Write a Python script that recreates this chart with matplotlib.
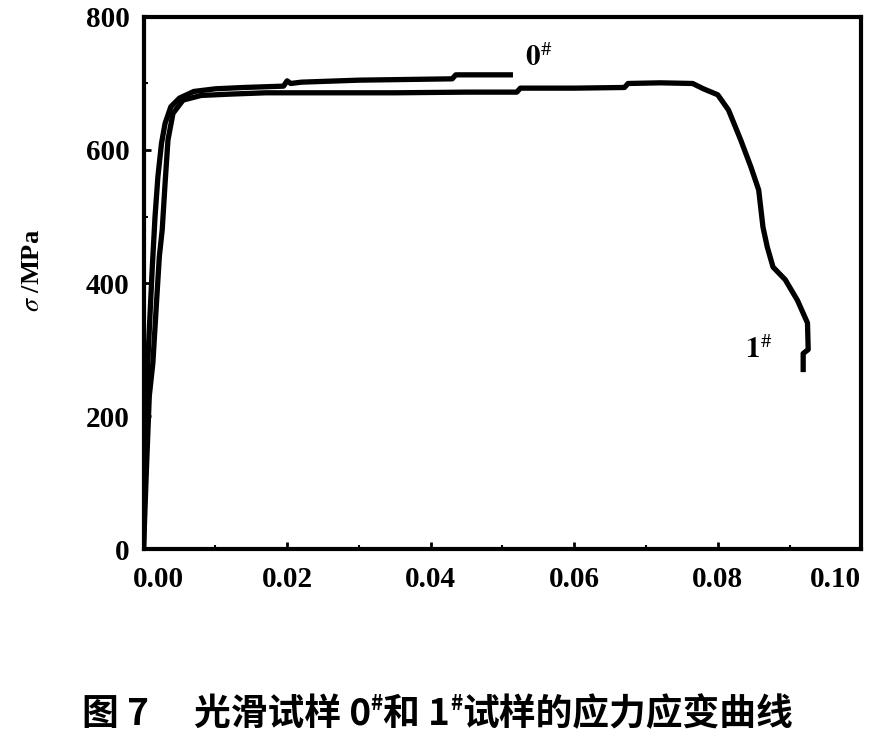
import matplotlib
matplotlib.use('Agg')
import matplotlib.pyplot as plt
import matplotlib.transforms as mtransforms
from matplotlib.ticker import MultipleLocator, FormatStrFormatter

# strain / stress
strain_1 = [0, 0.0004, 0.0008, 0.0013, 0.0018, 0.0022, 0.0026, 0.0030, 0.0034,
            0.0041, 0.0055, 0.0080, 0.012, 0.017, 0.025, 0.035, 0.045, 0.0520,
            0.0525, 0.060, 0.0670, 0.0675, 0.072, 0.0765, 0.0780, 0.0800, 0.0815,
            0.0832, 0.0846, 0.0857, 0.0863, 0.0869, 0.0877, 0.0894, 0.0911,
            0.0925, 0.0926, 0.0919, 0.0919]
stress_1 = [0, 120, 230, 280, 370, 440, 480, 550, 615,
            655, 675, 682, 684, 686, 686, 686, 687, 687,
            693, 693, 694, 700, 701, 700, 692, 683, 660,
            615, 575, 540, 484, 454, 424, 405, 374,
            340, 300, 294, 270]

strain_0 = [0, 0.0002, 0.0005, 0.0008, 0.0012, 0.0016, 0.0020, 0.0025, 0.0030,
            0.0038, 0.0050, 0.0070, 0.010, 0.014, 0.0195, 0.020, 0.0205, 0.022,
            0.030, 0.043, 0.0435, 0.0511]
stress_0 = [0, 150, 260, 330, 420, 500, 560, 610, 640,
            665, 678, 688, 692, 694, 696, 704, 700, 702,
            705, 707, 713, 713]

x_ticks = [0.00, 0.02, 0.04, 0.06, 0.08, 0.10]
y_ticks = [0, 200, 400, 600, 800]

caption_runs = [('图 7\u3000 光滑试样 0', 0), ('#', 1), ('和 1', 0), ('#', 1),
                ('试样的应力应变曲线', 0)]

serif = 'Liberation Serif'
plt.rcParams['mathtext.fontset'] = 'stix'

fig = plt.figure(figsize=(8.78, 7.38), dpi=100)
ax = fig.add_axes([0.1635, 0.256, 0.8175, 0.721])

ax.plot(strain_1, stress_1, color='black', lw=3.8, solid_joinstyle='round')
ax.plot(strain_0, stress_0, color='black', lw=3.8, solid_joinstyle='round')

ax.set_xlim(0, 0.10)
ax.set_ylim(0, 800)
ax.set_xticks(x_ticks)
ax.set_yticks(y_ticks)
ax.xaxis.set_major_formatter(FormatStrFormatter('%.2f'))
ax.xaxis.set_minor_locator(MultipleLocator(0.01))
ax.yaxis.set_minor_locator(MultipleLocator(100))
ax.tick_params(which='major', direction='in', length=5, width=2, pad=12)
ax.tick_params(which='minor', direction='in', length=3, width=1.5)
ax.tick_params(axis='y', pad=10)
for lab in ax.get_xticklabels() + ax.get_yticklabels():
    lab.set_fontfamily(serif)
    lab.set_fontweight('bold')
    lab.set_fontsize(21)
for sp in ax.spines.values():
    sp.set_linewidth(3)

# end labels sit inside the frame in the original
xlabs = ax.get_xticklabels()
xlabs[0].set_transform(xlabs[0].get_transform() +
                       mtransforms.ScaledTranslation(15 / 100, 0, fig.dpi_scale_trans))
xlabs[-1].set_horizontalalignment('right')

ax.set_ylabel(r'$\mathit{\sigma}$ /MPa', fontfamily=serif, fontweight='bold',
              fontsize=19)
ax.yaxis.set_label_coords(-0.139, 0.524)

ax.text(0.0532, 718, r'$\mathbf{0}^{\#}$', fontsize=21, ha='left', va='bottom')
ax.text(0.0838, 278, r'$\mathbf{1}^{\#}$', fontsize=21, ha='left', va='bottom')

# caption: pieces laid side by side so '#' can sit raised
cap_font = ['Noto Sans CJK SC', 'DejaVu Sans']
texts = []
for s, sup in caption_runs:
    t = fig.text(0, 0.018, s, fontsize=15 if sup else 26.5, family=cap_font,
                 fontweight='bold', va='baseline', ha='left')
    texts.append((t, sup))
fig.canvas.draw()
r = fig.canvas.get_renderer()
widths = [t.get_window_extent(r).width / fig.bbox.width for t, _ in texts]
x = 0.498 - sum(widths) / 2
for (t, sup), w in zip(texts, widths):
    t.set_x(x)
    if sup:
        t.set_y(0.038)
    x += w

fig.savefig('out.png', dpi=100)
